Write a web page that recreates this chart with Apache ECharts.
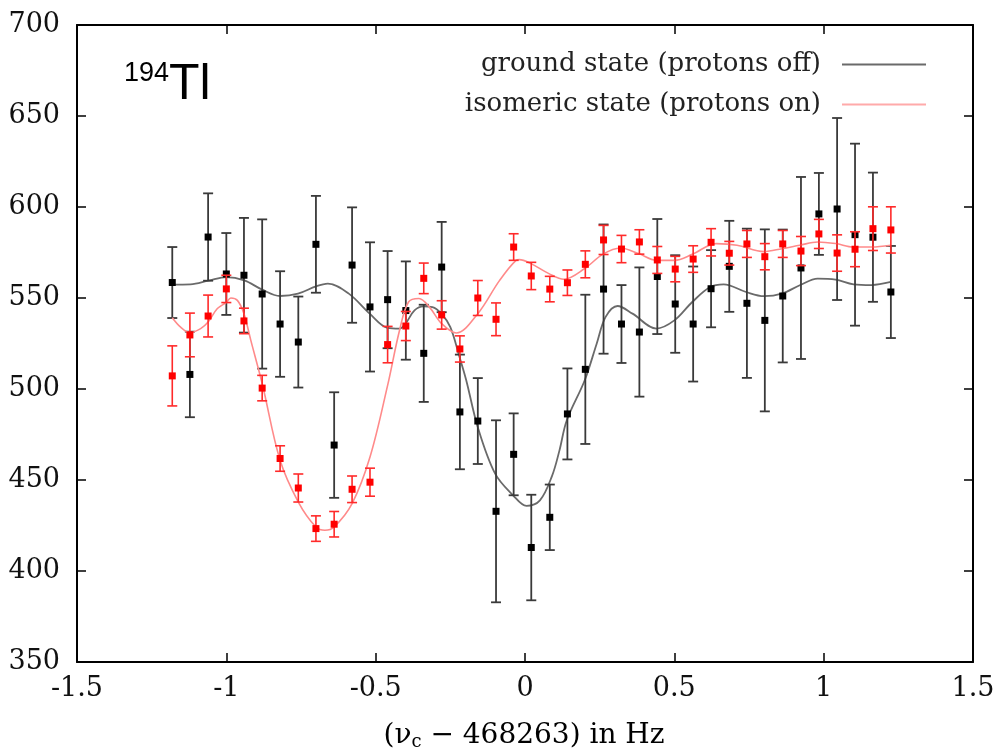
<!DOCTYPE html>
<html>
<head>
<meta charset="utf-8">
<script src="https://cdn.jsdelivr.net/npm/echarts@6/dist/echarts.min.js"></script>
<style>
  html, body { margin: 0; padding: 0; background: #fff; }
  #chart { width: 999px; height: 750px; }
</style>
</head>
<body>
<div id="chart"></div>
<script>
// Frequency offsets (Hz) shared by both measurement series
const freq = [-1.181, -1.122, -1.061, -1.000, -0.941, -0.880, -0.820, -0.759, -0.700, -0.639,
  -0.579, -0.519, -0.460, -0.399, -0.339, -0.279, -0.218, -0.158, -0.097, -0.038,
  0.021, 0.083, 0.142, 0.202, 0.263, 0.323, 0.383, 0.443, 0.503, 0.563,
  0.623, 0.684, 0.743, 0.803, 0.863, 0.924, 0.984, 1.045, 1.105, 1.165, 1.225];

// Ground state (protons off): mean time of flight and uncertainty
const groundTof = [558.5, 508, 583.5, 563.2, 562.5, 552.2, 535.7, 525.8, 579.5, 469.2,
  568.1, 545.1, 549.1, 543.1, 519.6, 567, 487.4, 482.4, 432.8, 464.1,
  412.9, 429.5, 486.3, 510.8, 554.9, 535.7, 531.3, 561.8, 546.7, 535.7,
  555.1, 567.4, 547.1, 537.7, 551.1, 566.5, 596.2, 598.9, 584.8, 583.4, 553.3];
const groundErr = [19.5, 23.5, 24, 22.5, 31.5, 41, 29, 25, 26.6, 29,
  31.7, 35.5, 26.7, 27, 26.7, 24.8, 31.5, 23.6, 50, 22.5,
  29, 18, 25, 41, 35.5, 21.4, 35.5, 31.6, 26.8, 31.6,
  21.2, 25, 41, 50, 36.5, 50, 22.5, 50, 50, 35.5, 25.3];

// Isomeric state (protons on)
const isomerTof = [507.2, 529.7, 540.1, 555, 537.4, 500.5, 461.8, 445.6, 423.3, 425.7,
  444.9, 448.8, 524.4, 534.6, 560.8, 540.7, 522, 550, 538.3, 578,
  562.1, 554.9, 558.4, 568.5, 581.9, 576.9, 580.8, 570.9, 565.9, 571.4,
  580.6, 574.6, 579.7, 572.7, 579.7, 575.8, 585.2, 574.7, 576.8, 588.1, 587.4];
const isomerErr = [16.5, 12, 11.5, 7.5, 7, 7, 7, 7.7, 7, 7,
  7.3, 7.7, 10, 8, 8.4, 7.8, 7.2, 9.6, 9, 7.3,
  7.5, 7, 7, 7.4, 8, 7.5, 6.7, 7.4, 7, 7.3,
  7.5, 6.5, 7.4, 7.2, 7.4, 8, 8, 10, 9.6, 12, 12.7];

// Fitted resonance curves, sampled along the frequency axis
const groundFitX = [-1.181, -1.12, -1.06, -1.0, -0.94, -0.88, -0.82, -0.76, -0.70, -0.66,
  -0.59, -0.52, -0.46, -0.42, -0.40, -0.37, -0.34, -0.31, -0.28, -0.25,
  -0.22, -0.197, -0.158, -0.10, -0.04, 0.005, 0.05, 0.09, 0.115, 0.14,
  0.20, 0.24, 0.27, 0.31, 0.36, 0.44, 0.50, 0.56, 0.62, 0.665,
  0.74, 0.80, 0.86, 0.92, 0.98, 1.04, 1.10, 1.16, 1.225];
const groundFitY = [557.4, 557.5, 559.5, 561.5, 559.7, 554.6, 551.1, 552.4, 556.4, 557.9,
  552.4, 541.4, 533.6, 533.2, 535.9, 543.2, 545.4, 545, 541.4, 534,
  518, 505, 479, 453.5, 441.6, 435.8, 438.8, 452, 466, 482.8,
  504.8, 524.9, 539.6, 545.6, 541.4, 533.2, 537.7, 547.8, 556, 557.5,
  553.3, 551, 552.4, 557, 560.7, 560.1, 557.5, 557.1, 558.8];

const isomerFitX = [-1.181, -1.153, -1.122, -1.086, -1.061, -1.03, -1.0, -0.985, -0.963, -0.941,
  -0.918, -0.88, -0.82, -0.759, -0.70, -0.67, -0.639, -0.579, -0.519, -0.46,
  -0.42, -0.39, -0.355, -0.32, -0.279, -0.23, -0.158, -0.085, -0.03, -0.019,
  0.02, 0.08, 0.13, 0.20, 0.26, 0.32, 0.38, 0.44, 0.50, 0.56,
  0.64, 0.71, 0.80, 0.86, 0.92, 0.98, 1.04, 1.10, 1.16, 1.225];
const isomerFitY = [539.2, 534, 531, 533.2, 536.8, 544.2, 547.6, 550, 548.7, 541.4,
  526.7, 503, 460.8, 437.9, 424.2, 422.4, 424.2, 437, 462.6, 502,
  532.3, 547.8, 549.7, 545, 535.9, 530.8, 541.4, 559.7, 570.7, 571.1,
  568.9, 563.4, 560.3, 566.2, 574, 577.5, 574.4, 570.7, 570.7, 574,
  579.9, 579, 575.5, 577.1, 579, 580.8, 579.9, 578, 578, 579];

const xTicks = { min: -1.5, max: 1.5, step: 0.5 };
const yTicks = { min: 350, max: 700, step: 50 };

const groundName = 'ground state (protons off)';
const isomerName = 'isomeric state (protons on)';

const serif = 'DejaVu Serif';

function zip(a, b, c) {
  return a.map((v, i) => c ? [v, b[i], c[i]] : [v, b[i]]);
}

// Vertical error bar with short caps at both ends
function errorBar(color, width) {
  return function (params, api) {
    const x = api.value(0), y = api.value(1), e = api.value(2);
    const hi = api.coord([x, y + e]);
    const lo = api.coord([x, y - e]);
    const w = 5;
    const style = { stroke: color, lineWidth: width };
    return {
      type: 'group',
      children: [
        { type: 'line', shape: { x1: hi[0], y1: hi[1], x2: lo[0], y2: lo[1] }, style },
        { type: 'line', shape: { x1: hi[0] - w, y1: hi[1], x2: hi[0] + w, y2: hi[1] }, style },
        { type: 'line', shape: { x1: lo[0] - w, y1: lo[1], x2: lo[0] + w, y2: lo[1] }, style }
      ]
    };
  };
}

const frameLine = { show: true, onZero: false, lineStyle: { color: '#000', width: 2 } };
const innerTick = { show: true, inside: true, length: 9, lineStyle: { color: '#000', width: 1.5 } };

const chart = echarts.init(document.getElementById('chart'));
chart.setOption({
  animation: false,
  backgroundColor: '#fff',
  grid: { left: 77, right: 26, top: 25, bottom: 88 },
  legend: {
    data: [
      { name: groundName, icon: 'rect' },
      { name: isomerName, icon: 'rect' }
    ],
    orient: 'vertical',
    align: 'right',
    right: 68,
    top: 44,
    itemWidth: 84,
    itemHeight: 2,
    itemGap: 9,
    selectedMode: false,
    textStyle: { fontFamily: serif, fontSize: 26, color: '#222', lineHeight: 31, padding: [0, 16, 0, 0] }
  },
  xAxis: [
    {
      type: 'value', position: 'bottom',
      min: xTicks.min, max: xTicks.max, interval: xTicks.step,
      axisLine: frameLine, axisTick: innerTick, splitLine: { show: false },
      axisLabel: { fontFamily: serif, fontSize: 27, color: '#111', margin: 13 }
    },
    {
      type: 'value', position: 'top',
      min: xTicks.min, max: xTicks.max, interval: xTicks.step,
      axisLine: frameLine, axisTick: innerTick, splitLine: { show: false },
      axisLabel: { show: false }
    }
  ],
  yAxis: [
    {
      type: 'value', position: 'left',
      min: yTicks.min, max: yTicks.max, interval: yTicks.step,
      axisLine: frameLine, axisTick: innerTick, splitLine: { show: false },
      axisLabel: { fontFamily: serif, fontSize: 27, color: '#111', margin: 17 }
    },
    {
      type: 'value', position: 'right',
      min: yTicks.min, max: yTicks.max, interval: yTicks.step,
      axisLine: frameLine, axisTick: innerTick, splitLine: { show: false },
      axisLabel: { show: false }
    }
  ],
  graphic: [
    {
      type: 'text', left: 124, top: 60,
      style: {
        text: '{s|194}{b|Tl}',
        rich: {
          s: { fontFamily: 'Liberation Sans', fontSize: 27, color: '#000', verticalAlign: 'top', padding: [0, 0, 16, 0] },
          b: { fontFamily: 'Liberation Sans', fontSize: 50, color: '#000' }
        }
      }
    },
    {
      type: 'text', x: 524, y: 736,
      style: {
        text: '{a|(ν}{b|c}{a| − 468263) in Hz}',
        align: 'center', verticalAlign: 'middle',
        rich: {
          a: { fontFamily: serif, fontSize: 28, color: '#111' },
          b: { fontFamily: serif, fontSize: 18, color: '#111', padding: [13, 0, 0, 0] }
        }
      }
    }
  ],
  series: [
    {
      name: groundName, type: 'line', data: zip(groundFitX, groundFitY),
      smooth: 0.35, showSymbol: false, z: 2,
      lineStyle: { color: '#6a6a6a', width: 1.8 }, itemStyle: { color: '#6a6a6a' }
    },
    {
      name: 'ground error', type: 'custom', data: zip(freq, groundTof, groundErr),
      renderItem: errorBar('#3a3a3a', 1.8), z: 3
    },
    {
      name: 'ground points', type: 'scatter', data: zip(freq, groundTof),
      symbol: 'rect', symbolSize: 7, itemStyle: { color: '#000', opacity: 1 }, z: 4
    },
    {
      name: isomerName, type: 'line', data: zip(isomerFitX, isomerFitY),
      smooth: 0.35, showSymbol: false, z: 5,
      lineStyle: { color: '#ff8a8a', width: 1.6 }, itemStyle: { color: '#ffaaaa' }
    },
    {
      name: 'isomer error', type: 'custom', data: zip(freq, isomerTof, isomerErr),
      renderItem: errorBar('#ff2a2a', 1.6), z: 6
    },
    {
      name: 'isomer points', type: 'scatter', data: zip(freq, isomerTof),
      symbol: 'rect', symbolSize: 7, itemStyle: { color: '#ff0000', opacity: 1 }, z: 7
    }
  ]
});
</script>
</body>
</html>
